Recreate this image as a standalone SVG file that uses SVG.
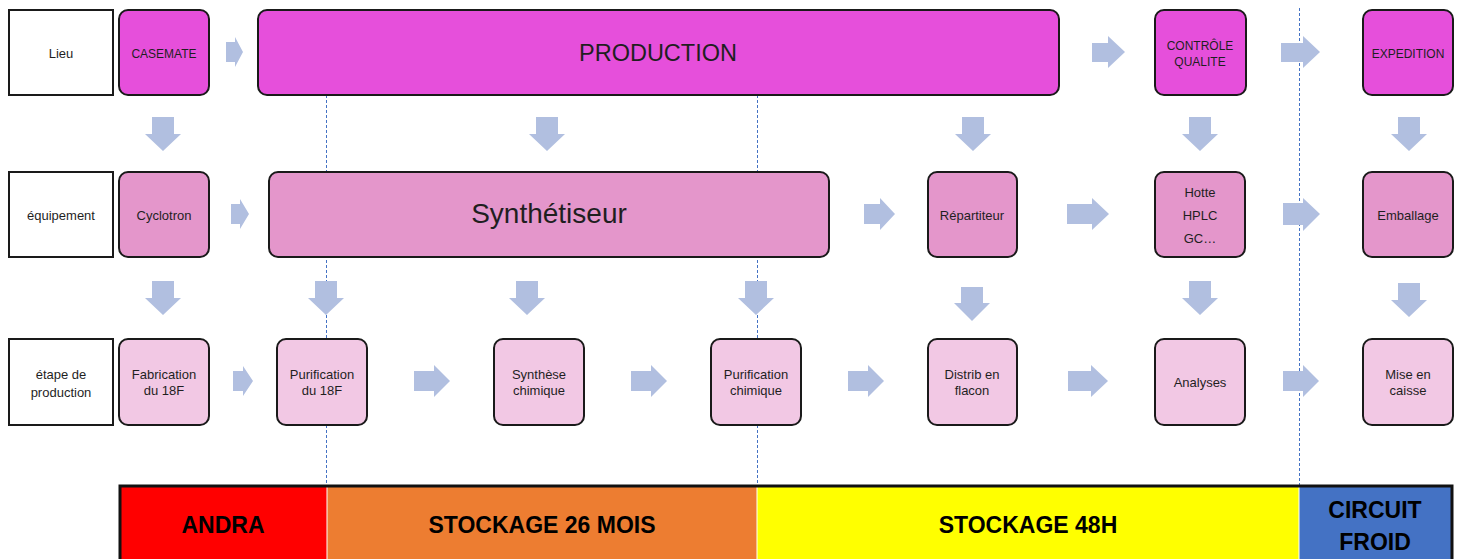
<svg xmlns="http://www.w3.org/2000/svg" width="1461" height="559" viewBox="0 0 1461 559">
<style>
text{font-family:"Liberation Sans",Arial,sans-serif;fill:#1f1f1f;text-anchor:middle}
.lbl{font-size:13px}
.cap{font-size:12px}
.big{font-size:23.5px}
.bar{font-size:23px;font-weight:bold;fill:#000}
.head{fill:#fff;stroke:#1a1a1a;stroke-width:2}
.lieu{fill:#e64fdb;stroke:#1a1a1a;stroke-width:2}
.equip{fill:#e496cb;stroke:#1a1a1a;stroke-width:2}
.etape{fill:#f2c8e4;stroke:#1a1a1a;stroke-width:2}
.arr{fill:#b1bfe0}
.dash{stroke:#4472c4;stroke-width:1;stroke-dasharray:3 2;fill:none}
</style>
<rect width="1461" height="559" fill="#fff"/>
<g id="guides">
<line class="dash" x1="326.5" y1="95" x2="326.5" y2="486"/>
<line class="dash" x1="757.5" y1="95" x2="757.5" y2="486"/>
<line class="dash" x1="1299.5" y1="8" x2="1299.5" y2="486"/>
</g>
<g id="row-lieu">
<g id="h-lieu"><rect class="head" x="9" y="10" width="104" height="85"/><text class="lbl" x="61" y="57.5">Lieu</text></g>
<g id="casemate"><rect class="lieu" x="119" y="10" width="90" height="85" rx="9"/><text class="cap" x="164" y="57.5">CASEMATE</text></g>
<g id="production"><rect class="lieu" x="258" y="10" width="801" height="85" rx="9"/><text class="big" x="658" y="60.5">PRODUCTION</text></g>
<g id="controle"><rect class="lieu" x="1155" y="10" width="91" height="85" rx="9"/><text class="cap" x="1200" y="49.5">CONTRÔLE</text><text class="cap" x="1200" y="65.5">QUALITE</text></g>
<g id="expedition"><rect class="lieu" x="1363" y="10" width="90" height="85" rx="9"/><text class="cap" x="1408" y="57.5">EXPEDITION</text></g>
</g>
<g id="row-equipement">
<g id="h-equip"><rect class="head" x="9" y="172" width="104" height="85"/><text class="lbl" x="61" y="219.5">équipement</text></g>
<g id="cyclotron"><rect class="equip" x="119" y="172" width="90" height="85" rx="9"/><text class="lbl" x="164" y="219.5">Cyclotron</text></g>
<g id="synthetiseur"><rect class="equip" x="269" y="172" width="560" height="85" rx="9"/><text class="big" x="549" y="223" style="font-size:28px">Synthétiseur</text></g>
<g id="repartiteur"><rect class="equip" x="928" y="172" width="89" height="85" rx="9"/><text class="lbl" x="972" y="219.5">Répartiteur</text></g>
<g id="hotte"><rect class="equip" x="1155" y="172" width="90" height="85" rx="9"/><text class="lbl" x="1200" y="196.5">Hotte</text><text class="lbl" x="1200" y="219.5">HPLC</text><text class="lbl" x="1200" y="242.5">GC…</text></g>
<g id="emballage"><rect class="equip" x="1363" y="172" width="90" height="85" rx="9"/><text class="lbl" x="1408" y="219.5">Emballage</text></g>
</g>
<g id="row-etape">
<g id="h-etape"><rect class="head" x="9" y="339" width="104" height="86"/><text class="lbl" x="61" y="378.5">étape de</text><text class="lbl" x="61" y="396.5">production</text></g>
<g id="fabrication"><rect class="etape" x="119" y="339" width="90" height="86" rx="9"/><text class="lbl" x="164" y="378.5">Fabrication</text><text class="lbl" x="164" y="394.5">du 18F</text></g>
<g id="purif18f"><rect class="etape" x="277" y="339" width="90" height="86" rx="9"/><text class="lbl" x="322" y="378.5">Purification</text><text class="lbl" x="322" y="394.5">du 18F</text></g>
<g id="synthese"><rect class="etape" x="494" y="339" width="90" height="86" rx="9"/><text class="lbl" x="539" y="378.5">Synthèse</text><text class="lbl" x="539" y="394.5">chimique</text></g>
<g id="purifchim"><rect class="etape" x="711" y="339" width="90" height="86" rx="9"/><text class="lbl" x="756" y="378.5">Purification</text><text class="lbl" x="756" y="394.5">chimique</text></g>
<g id="distrib"><rect class="etape" x="928" y="339" width="89" height="86" rx="9"/><text class="lbl" x="972" y="378.5">Distrib en</text><text class="lbl" x="972" y="394.5">flacon</text></g>
<g id="analyses"><rect class="etape" x="1155" y="339" width="90" height="86" rx="9"/><text class="lbl" x="1200" y="386.5">Analyses</text></g>
<g id="caisse"><rect class="etape" x="1363" y="339" width="90" height="86" rx="9"/><text class="lbl" x="1408" y="378.5">Mise en</text><text class="lbl" x="1408" y="394.5">caisse</text></g>
</g>
<g id="connectors">
<polygon class="arr" points="226,42 235,42 235,37 243,52 235,67 235,62 226,62"/>
<polygon class="arr" points="1092,43 1108,43 1108,36 1125,52 1108,68 1108,62 1092,62"/>
<polygon class="arr" points="1281,43 1303,43 1303,36 1320,52 1303,68 1303,62 1281,62"/>
<polygon class="arr" points="231,204 240,204 240,199 249,214 240,229 240,224 231,224"/>
<polygon class="arr" points="864,204 880,204 880,198 895,214 880,230 880,224 864,224"/>
<polygon class="arr" points="1067,204 1092,204 1092,198 1109,214 1092,230 1092,224 1067,224"/>
<polygon class="arr" points="1283,203 1303,203 1303,198 1320,214 1303,231 1303,225 1283,225"/>
<polygon class="arr" points="233,371 243,371 243,366 253,381 243,396 243,391 233,391"/>
<polygon class="arr" points="414,371 434,371 434,365 450,381 434,397 434,391 414,391"/>
<polygon class="arr" points="631,371 651,371 651,365 667,381 651,397 651,391 631,391"/>
<polygon class="arr" points="848,371 868,371 868,365 884,381 868,397 868,391 848,391"/>
<polygon class="arr" points="1068,371 1091,371 1091,365 1108,381 1091,397 1091,391 1068,391"/>
<polygon class="arr" points="1283,371 1303,371 1303,365 1319,381 1303,397 1303,391 1283,391"/>
<polygon class="arr" points="152,117 174,117 174,134 181,134 163,151 145,134 152,134"/>
<polygon class="arr" points="536,117 558,117 558,134 565,134 547,151 529,134 536,134"/>
<polygon class="arr" points="962,117 984,117 984,134 991,134 973,151 955,134 962,134"/>
<polygon class="arr" points="1189,117 1211,117 1211,134 1218,134 1200,151 1182,134 1189,134"/>
<polygon class="arr" points="1398,117 1420,117 1420,134 1427,134 1409,151 1391,134 1398,134"/>
<polygon class="arr" points="152,281 174,281 174,298 181,298 163,315 145,298 152,298"/>
<polygon class="arr" points="315,281 337,281 337,298 344,298 326,315 308,298 315,298"/>
<polygon class="arr" points="516,281 538,281 538,298 545,298 527,315 509,298 516,298"/>
<polygon class="arr" points="745,281 767,281 767,298 774,298 756,315 738,298 745,298"/>
<polygon class="arr" points="961,287 983,287 983,303 990,303 972,321 954,303 961,303"/>
<polygon class="arr" points="1189,281 1211,281 1211,298 1218,298 1200,315 1182,298 1189,298"/>
<polygon class="arr" points="1398,283 1420,283 1420,300 1427,300 1409,317 1391,300 1398,300"/>
</g>
<g id="timeline">
<rect x="120" y="486" width="207" height="75" fill="#ff0000"/>
<rect x="327" y="486" width="430" height="75" fill="#ed7d31"/>
<rect x="757" y="486" width="542" height="75" fill="#ffff00"/>
<rect x="1299" y="486" width="153" height="75" fill="#4472c4"/>
<line x1="327" y1="487" x2="327" y2="559" stroke="#fff" stroke-width="1"/>
<line x1="757" y1="487" x2="757" y2="559" stroke="#fff" stroke-width="1"/>
<line x1="1299" y1="487" x2="1299" y2="559" stroke="#fff" stroke-width="1"/>
<rect x="120" y="486" width="1332" height="80" fill="none" stroke="#111" stroke-width="3"/>
<text class="bar" x="223" y="533">ANDRA</text>
<text class="bar" x="542" y="533">STOCKAGE 26 MOIS</text>
<text class="bar" x="1028" y="533">STOCKAGE 48H</text>
<text class="bar" x="1375" y="518">CIRCUIT</text>
<text class="bar" x="1375" y="550">FROID</text>
</g>
</svg>
